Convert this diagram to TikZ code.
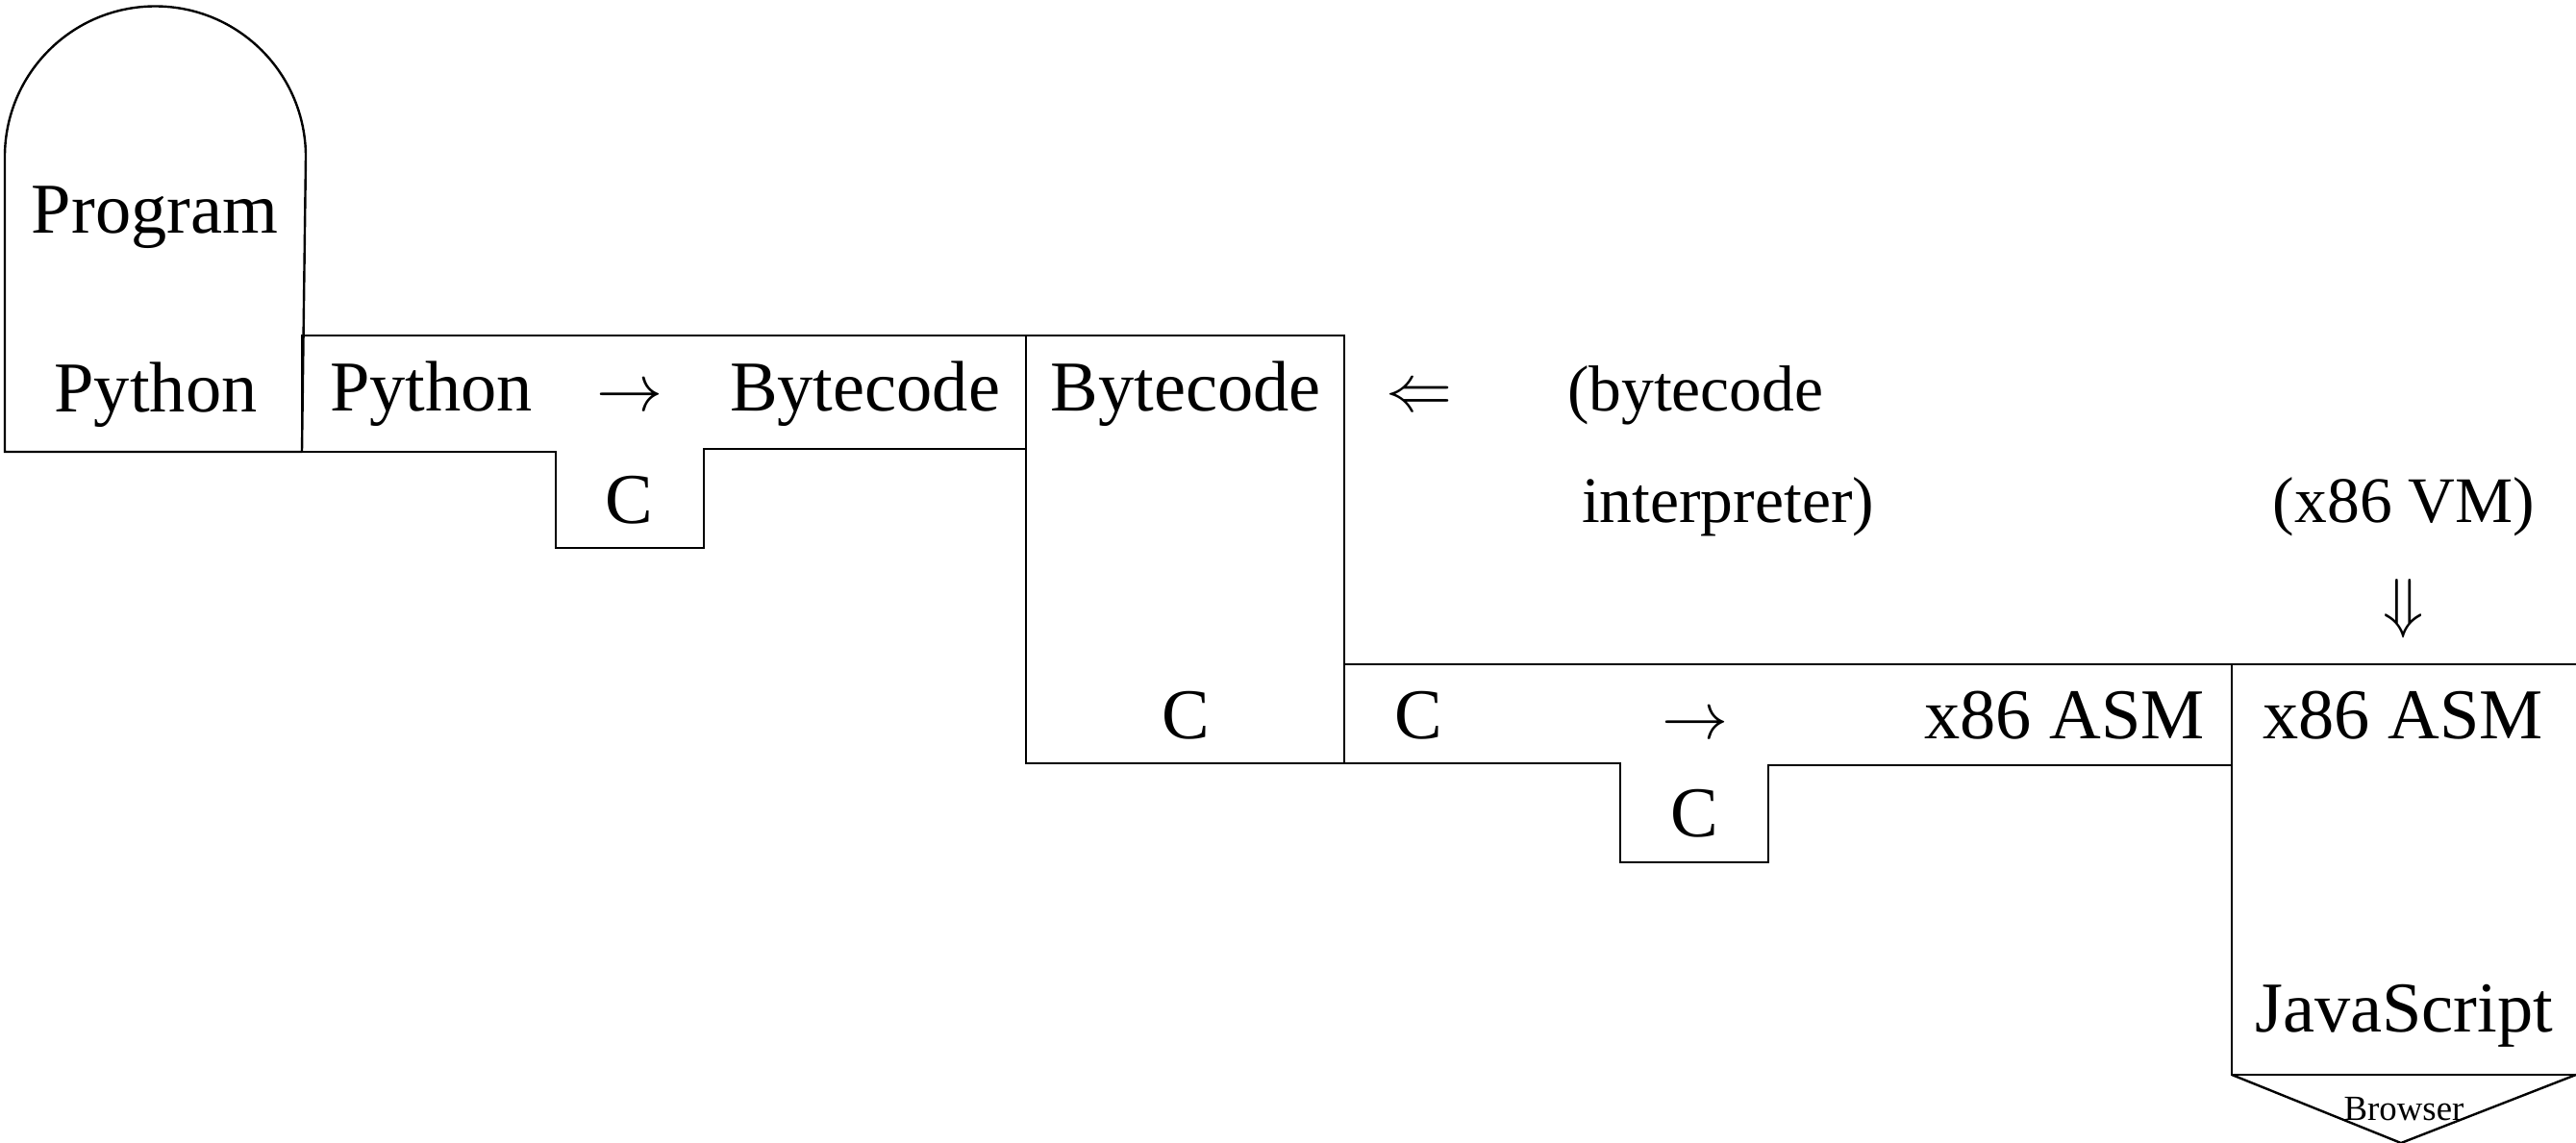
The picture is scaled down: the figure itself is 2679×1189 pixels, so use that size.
\documentclass[tikz,border=0pt]{standalone}
\usepackage{fontspec}
\setmainfont{Liberation Serif}
\begin{document}
\begin{tikzpicture}[x=0.25pt,y=-0.25pt,
  frame/.style={draw=black,line width=0.6pt,line join=miter},
  lbl/.style={inner sep=0pt,outer sep=0pt,font=\fontsize{18.6}{22}\selectfont,anchor=base},
  lblw/.style={lbl,anchor=base west},
  lble/.style={lbl,anchor=base east},
  note/.style={inner sep=0pt,outer sep=0pt,font=\fontsize{16.9}{20}\selectfont,anchor=base},
  notew/.style={note,anchor=base west},
  tiny/.style={inner sep=0pt,outer sep=0pt,font=\fontsize{9.2}{11}\selectfont,anchor=base}]
\useasboundingbox (0,0) rectangle (2679,1189);

% corner points of the outlines
\coordinate (progBL) at (5,470);
\coordinate (progL) at (5,163);
\coordinate (progR) at (318,163);
\coordinate (progBR) at (314,470);
\coordinate (t1TL) at (314,349);
\coordinate (t1TR) at (1067,349);
\coordinate (bcBR) at (1398,794);
\coordinate (t2TL) at (1398,691);
\coordinate (t2TR) at (2679,691);
\coordinate (vmTL) at (2321,691);
\coordinate (vmBL) at (2321,1118);
\coordinate (vmBR) at (2679,1118);
\coordinate (vmTip) at (2497,1189);

% program: rounded-top tombstone
\draw[frame] (progBR) -- (progBL) -- (progL)
  arc[start angle=180,end angle=360,radius=156.5] -- (progBR);

% compiler Python -> Bytecode written in C
\draw[frame] (progBR) -- (t1TL) -- (t1TR);
\draw[frame] (progBR) -- (578,470) -- (578,570) -- (732,570) -- (732,467) -- (1067,467);

% interpreter box: Bytecode on C
\draw[frame] (t1TR) rectangle (bcBR);

% compiler C -> x86 ASM written in C
\draw[frame] (t2TL) -- (t2TR);
\draw[frame] (bcBR) -- (1685,794) -- (1685,897) -- (1839,897) -- (1839,796) -- (2321,796);

% machine: x86 ASM on JavaScript, running in the browser
\draw[frame] (vmTL) -- (vmBL) -- (vmBR);
\draw[frame] (vmBL) -- (vmTip) -- (vmBR);

% labels
\node[lbl] (prog) at (161,242) {Program};
\node[lbl] (progLang) at (162,428) {Python};

\node[lblw] (t1Src) at (343,427) {Python};
\node[lbl] (t1Arr) at (655,427) {$\rightarrow$};
\node[lble] (t1Dst) at (1040,427) {Bytecode};
\node[lbl] (t1Impl) at (654,544) {C};

\node[lbl] (bcTop) at (1233,427) {Bytecode};
\node[lbl] (bcImpl) at (1233,768) {C};
\node[lbl] (bcArr) at (1476,427) {$\Leftarrow$};
\node[notew] (bcNote1) at (1630,427) {(bytecode};
\node[notew] (bcNote2) at (1645,543) {interpreter)};

\node[lbl] (t2Src) at (1475,768) {C};
\node[lbl] (t2Arr) at (1763,768) {$\rightarrow$};
\node[lble] (t2Dst) at (2293,768) {x86 ASM};
\node[lbl] (t2Impl) at (1762,870) {C};

\node[note] (vmNote) at (2500,543) {(x86 VM)};
\node[lbl] (vmArr) at (2500,650) {$\Downarrow$};
\node[lbl] (vmTop) at (2499,768) {x86 ASM};
\node[lbl] (vmImpl) at (2500,1073) {JavaScript};
\node[tiny] (browser) at (2500,1165) {Browser};
\end{tikzpicture}
\end{document}
